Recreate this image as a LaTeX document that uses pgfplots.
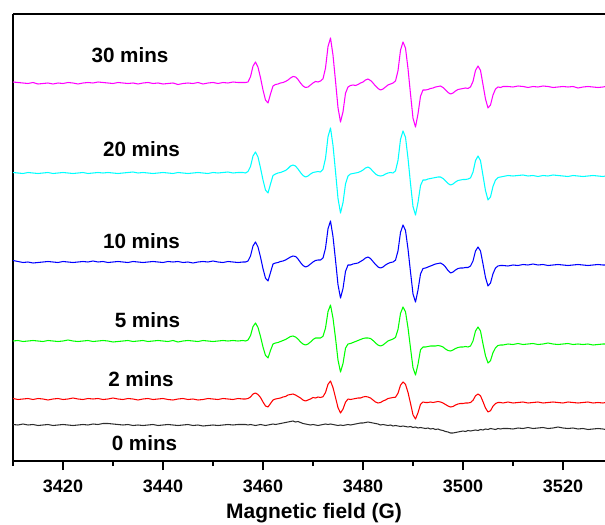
\documentclass[border=0pt]{standalone}
\usepackage{fontspec}
\setmainfont{Liberation Sans}
\usepackage{pgfplots}
\usepackage{pgfplotstable}
\pgfplotsset{compat=1.18}

\definecolor{tr0}{RGB}{45,45,45}
\definecolor{tr2}{RGB}{255,0,0}
\definecolor{tr5}{RGB}{0,255,0}
\definecolor{tr10}{RGB}{0,0,255}
\definecolor{tr20}{RGB}{0,255,255}
\definecolor{tr30}{RGB}{255,0,255}

\tikzset{trace label/.style={font=\fontsize{15.5}{18}\selectfont\bfseries, inner sep=0pt}}

% EPR signal (arbitrary units) for each irradiation time; each trace is drawn
% with its own vertical offset
\pgfplotstableread{
x t0 t2 t5 t10 t20 t30
3410 0.5 0.5 0 1.5 0.5 1
3411 0 -0.5 0.5 0.5 0 0.5
3412 1 0 -0.5 -0.5 -0.5 0
3413 0 0.5 0 0 0.5 -0.5
3414 0.5 -0.5 0.5 -1 0 0.5
3415 -0.5 0.5 0 -0.5 -0.5 -1
3416 0 0 -0.5 0 0 -0.5
3417 0.5 -1 0.5 0.5 0.5 0
3418 -0.5 0 0 0 -0.5 -1
3419 0 0.5 -0.5 -0.5 0 0
3420 0.5 -0.5 0 0.5 0.5 -0.5
3421 0 0 1 0 0 0.5
3422 -0.5 1 0 -0.5 -0.5 0
3423 0 0 -0.5 0 0 -1
3424 0.5 -0.5 0 0.5 0.5 0
3425 0 0.5 0.5 0 -0.5 0.5
3426 1 0 -0.5 1 0 0
3427 0.5 0.5 0 0 0.5 1
3428 1.5 -0.5 0.5 0.5 0 0.5
3429 1.5 0 0 -0.5 0.5 0
3430 1 1 -1 0 0 -0.5
3431 0.5 0 -0.5 0.5 -0.5 0.5
3432 0 -0.5 0 0 0 0
3433 0.5 0.5 0.5 -0.5 0.5 -0.5
3434 -0.5 0 -0.5 0.5 1 0
3435 0 -1 0 0 0 -1
3436 -0.5 0 0.5 -0.5 0.5 0
3437 0 0.5 -0.5 0 0 0.5
3438 0.5 -0.5 0 0.5 -0.5 -0.5
3439 -0.5 0 0.5 0 0 0
3440 0 0.5 0 -0.5 0.5 -1
3441 0.5 -0.5 -0.5 0.5 0 -0.5
3442 0 -1 0.5 0 -0.5 0
3443 -0.5 0 -1 0.5 0.5 -1.5
3444 0 0.5 0 -0.5 0 -0.5
3445 0.5 -0.5 0.5 0 -0.5 0
3446 -0.5 0 0 -1 0 -0.5
3447 0 -1 -0.5 0 0.5 0.5
3448 -1 -0.5 0.5 0.5 0 -1
3449 -0.5 0.5 0 0 -0.5 0
3450 0 0 -0.5 1 0.5 0.5
3451 -0.5 -0.5 0 0 0 -0.5
3452 0 0.5 0.5 -0.5 0.5 0.5
3453 0.5 0 0 0.5 1 0
3454 0 -0.5 0.5 0 0 1
3455 0.5 0.5 0 -0.5 0.5 0.5
3456 0.5 0 0.5 0 0.5 0.5
3456.5 0.5 0 0 0 0 0.5
3457 0 0.5 1 1 1.5 1
3457.5 0.5 2 5.4 6 6.5 6.3
3458 0 5 14.4 16 17 16.8
3458.5 -0.5 6 18 20 21 21
3459 0 4.5 13.5 15 16 15.8
3459.5 0.5 1.5 4.5 5 5 5.3
3460 0 -3 -6 -6.7 -7 -7
3460.5 -0.5 -7 -14.5 -16.2 -17 -17
3461 0 -8 -17 -19 -20 -20
3461.5 0.5 -4.5 -9.4 -10.5 -11 -11
3462 1 -1 -3 -2 -2.5 -3
3462.5 0.5 0 -2 -1 -1 -1.5
3463 1 0.5 -1.5 -0.5 0 -1
3463.5 1.5 1 -0.5 0.5 0.5 0
3464 2 2 0.5 1 1.5 0.5
3464.5 2.5 2.5 1.5 2 2.5 1.5
3465 3 4 3 3.5 4.5 3
3465.5 3.5 4.5 4.5 5 7 5
3466 4 5 5 6 8 6.5
3466.5 3 4 4 5.5 7 6
3467 3.5 2.5 2 3 4 3.5
3467.5 2.5 1 -1 -0.5 0.5 0
3468 1.5 -1 -3 -3.5 -2.5 -3
3468.5 1 -2 -4 -5 -4 -4.5
3469 0.5 -1 -3 -4 -3 -4
3469.5 0 0 -1 -2 -1 -2
3470 0.5 1.5 1.5 0 0.5 0
3470.5 0 1 3 1.5 1 1.5
3471 -0.5 2 3 2 1.5 1
3471.5 0 1.5 3 2 1 2
3472 0.5 2.3 4.7 4 3.7 4.2
3472.5 1 6.5 12.9 13.7 14.6 14.9
3473 0.5 14.7 29.4 33.2 36.3 36.4
3473.5 1 18 36 41 45 45
3474 0.5 11.4 22.8 25.4 27.6 27.8
3474.5 0 1.5 3 2 1.5 2
3475 -0.5 -8.6 -19.1 -22.7 -25.5 -24.7
3475.5 0 -14 -31 -36 -40 -39
3476 -0.5 -10.1 -22.5 -26.5 -29.6 -28.8
3476.5 0 -3.2 -7.2 -9.4 -11 -10.3
3477 0.5 0 -3 -3 -3 -4
3477.5 0 -0.5 -2.5 -3 -1 -2.5
3478 0.5 0 -1.5 -2 -0.5 -2
3478.5 1 0.5 -0.5 -1.5 0 -2.5
3479 1.5 1 0.5 -1 0.5 -1.5
3479.5 2 1 1.5 0.5 1.5 0
3480 2 2 2.5 2 3 1
3480.5 2.5 2.5 3 4 5 3
3481 3 2 3 5 6 4
3481.5 2.5 1 2.5 3.5 4.5 2.5
3482 2 -1 0.5 0.5 1.5 0
3482.5 1.5 -3 -2 -2.5 -1 -3
3483 1 -4 -4 -5 -2.5 -5.5
3483.5 0 -3.5 -5 -6 -3 -7
3484 0.5 -2 -4 -5 -2.5 -6
3484.5 0 -1 -2 -3 -1 -4
3485 -0.5 0.5 0 -1.5 0 -2
3485.5 0 1 1 -0.5 0.5 -1
3486 -1 1.5 2 0 0 0
3486.5 -0.5 1.8 3.6 1.9 2.1 2
3487 -1 5.8 11.6 11.1 12.6 12.3
3487.5 -1.5 13.8 27.6 29.6 33.6 32.8
3488 -1 17 34 37 42 41
3488.5 -1.5 14.6 29.2 31.5 35.7 34.9
3489 -2 6.6 13.2 13 14.7 14.4
3489.5 -1.5 -4.3 -7 -10 -10.5 -11
3490 -2.5 -15.8 -26.8 -32 -33.6 -35.2
3490.5 -2 -20 -34 -40 -42 -44
3491 -3 -13.7 -23.2 -28 -29.4 -30.8
3491.5 -2.5 -5.3 -8.8 -12 -12.6 -13.2
3492 -3 -3 -6 -6.5 -7 -7
3492.5 -3.5 -3.5 -6 -6 -7 -7
3493 -3 -3.5 -5.5 -5 -6 -6.5
3493.5 -4 -3 -5 -4 -5.5 -5.5
3494 -3.5 -3.5 -5 -3 -5 -5
3494.5 -4.5 -3 -5 -2 -4.5 -4
3495 -4 -2.5 -4.5 -1.5 -4 -3.5
3495.5 -5 -3 -5 -1 -4 -3
3496 -5.5 -4 -6 -2.5 -5.5 -4.5
3496.5 -6.5 -5.5 -8 -5 -8 -7
3497 -7 -7 -9.5 -8.5 -10.5 -9.5
3497.5 -8 -8 -10 -11 -12 -11
3498 -8 -7.5 -9 -10 -11 -10
3498.5 -7.5 -6 -7.5 -8 -9 -8
3499 -7 -5 -6.5 -6.5 -7.5 -6.5
3499.5 -6.5 -4.5 -6 -6 -7 -6
3500 -6 -4.5 -6 -6 -6.5 -5.5
3500.5 -6.5 -4 -5.5 -5.5 -6.5 -5
3501 -5.5 -4 -6 -5.5 -6 -5.5
3501.5 -6 -3.5 -5 -4 -4.9 -3.9
3502 -5.5 -1.3 0 1 0.9 1.6
3502.5 -5 3.2 10 11 12.4 12.6
3503 -5.5 5 14 15 17 17
3503.5 -4.5 3.2 10 11 12.4 12.6
3504 -5 -2.7 -3 -2 -2.6 -1.7
3504.5 -4 -9 -14.8 -15.5 -17.6 -16
3505 -4.5 -13 -22 -24 -27 -25
3505.5 -3.5 -11.7 -19.6 -21 -23.9 -22
3506 -4 -7.2 -11.6 -11.7 -13.4 -12
3506.5 -4.5 -4.5 -6.8 -6 -7 -6
3507 -3.5 -3.5 -4.5 -4 -4.5 -4
3507.5 -4 -3.5 -4 -3.5 -4 -4.5
3508 -3.5 -4 -4 -3.5 -3.5 -3.5
3509 -3.5 -3 -3 -4 -2.5 -3.5
3510 -4 -4 -3.5 -3 -3 -4
3511 -3 -3.5 -2.5 -3.5 -2.5 -3
3512 -3.5 -3 -3.5 -2.5 -2 -3.5
3513 -2.5 -4 -3 -3 -3 -4.5
3514 -3.5 -3.5 -2.5 -2 -2.5 -3.5
3515 -3 -3 -3.5 -3 -3.5 -4
3516 -2.5 -4 -3 -2.5 -2.5 -3
3517 -3.5 -3.5 -2 -3.5 -3 -3.5
3518 -3 -3 -3 -3 -2 -4.5
3519 -2 -3.5 -3.5 -2.5 -2.5 -4
3520 -3 -4 -3 -3 -3 -3.5
3521 -3.5 -3 -2.5 -3.5 -3.5 -4
3522 -3 -3.5 -3.5 -3 -2.5 -3.5
3523 -4 -4 -3 -2.5 -3 -5
3524 -3.5 -3.5 -3.5 -3 -3.5 -4
3525 -4.5 -3 -3 -3.5 -3 -3.5
3526 -4 -4 -4 -3 -2.5 -4
3527 -3.5 -3.5 -3.5 -2.5 -3 -4.5
3528 -4 -4 -3 -3 -3.5 -4
3528.5 -4.5 -3.5 -3 -3 -3 -3.5
}\spectra

\begin{document}
\begin{tikzpicture}
\begin{axis}[
  scale only axis,
  width=444pt, height=335.25pt,
  xmin=3410, xmax=3528.4,
  ymin=0, ymax=447,
  axis x line=box, axis y line=left,
  x axis line style={-, line width=1.3pt},
  y axis line style={-, line width=1.3pt},
  xtick={3420,3440,3460,3480,3500,3520},
  minor xtick={3410,3430,3450,3470,3490,3510},
  xtick pos=bottom,
  ytick=\empty,
  tick align=outside,
  major tick length=6.75pt,
  minor tick length=3.75pt,
  every tick/.style={black, line width=1.1pt},
  /pgf/number format/assume math mode=true,
  /pgf/number format/1000 sep={},
  xticklabel style={font=\fontsize{13.5}{16}\selectfont\bfseries, anchor=base, yshift=-17.1pt},
  xlabel={Magnetic field (G)},
  xlabel style={at={(rel axis cs:0.5085,0)}, anchor=base, yshift=-43.4pt,
    font=\fontsize{15.7}{18}\selectfont\bfseries},
  every axis plot/.append style={line width=0.8pt, line join=round},
]
\addplot[tr0]  table[x=x, y expr=\thisrow{t0}+36]  {\spectra};
\addplot[tr2]  table[x=x, y expr=\thisrow{t2}+62]  {\spectra};
\addplot[tr5]  table[x=x, y expr=\thisrow{t5}+120] {\spectra};
\addplot[tr10] table[x=x, y expr=\thisrow{t10}+199] {\spectra};
\addplot[tr20] table[x=x, y expr=\thisrow{t20}+288] {\spectra};
\addplot[tr30] table[x=x, y expr=\thisrow{t30}+378] {\spectra};

\node[trace label] at (axis cs:3433.4,405.5) {30 mins};
\node[trace label] at (axis cs:3435.7,312) {20 mins};
\node[trace label] at (axis cs:3435.7,220) {10 mins};
\node[trace label] at (axis cs:3436.9,141) {5 mins};
\node[trace label] at (axis cs:3435.6,82) {2 mins};
\node[trace label] at (axis cs:3436.3,18) {0 mins};

\coordinate (bbsw) at (rel axis cs:0,0);
\coordinate (bbne) at (rel axis cs:1,1);
\end{axis}
\pgfresetboundingbox
\useasboundingbox ([shift={(-9.75pt,-47.25pt)}]bbsw) rectangle ([shift={(0pt,10.5pt)}]bbne);
\end{tikzpicture}
\end{document}
